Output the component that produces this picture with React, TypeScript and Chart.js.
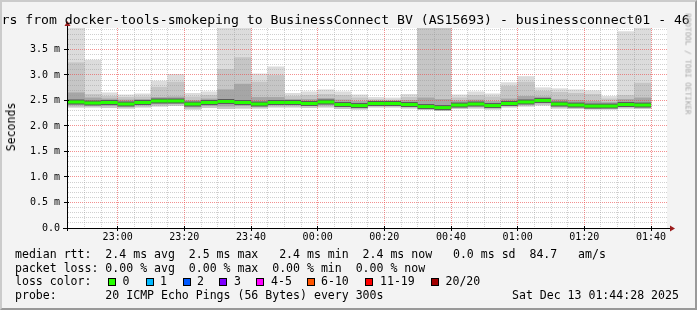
import React, { useEffect, useRef } from "react";
import { Chart, registerables } from "chart.js";

Chart.register(...registerables);

// ---- data -------------------------------------------------------------
// start of each 5-minute measurement slot
const slotStart = [
  "22:45", "22:50", "22:55", "23:00", "23:05", "23:10", "23:15", "23:20", "23:25", "23:30",
  "23:35", "23:40", "23:45", "23:50", "23:55", "00:00", "00:05", "00:10", "00:15", "00:20",
  "00:25", "00:30", "00:35", "00:40", "00:45", "00:50", "00:55", "01:00", "01:05", "01:10",
  "01:15", "01:20", "01:25", "01:30", "01:35",
];
// smoke envelope (ms)
const smokeMax = [
  3.92, 3.29, 2.65, 2.61, 2.63, 2.88, 3.01, 2.64, 2.67, 3.92,
  3.92, 3.02, 3.16, 2.64, 2.67, 2.71, 2.67, 2.61, 2.56, 2.55,
  2.62, 3.92, 3.92, 2.61, 2.67, 2.63, 2.85, 2.97, 2.75, 2.73,
  2.71, 2.69, 2.58, 3.85, 3.92,
];
const smokeUpper = [
  3.24, 2.62, 2.58, 2.56, 2.57, 2.76, 2.86, 2.57, 2.60, 3.11,
  3.34, 2.86, 2.99, 2.58, 2.60, 2.62, 2.60, 2.55, 2.52, 2.51,
  2.56, 3.92, 3.92, 2.55, 2.60, 2.57, 2.78, 2.86, 2.68, 2.66,
  2.64, 2.62, 2.53, 2.60, 2.84,
];
const smokeInner = [
  2.65, 2.55, 2.53, 2.51, 2.52, 2.56, 2.57, 2.50, 2.53, 2.71,
  2.82, 2.56, 2.56, 2.52, 2.52, 2.54, 2.51, 2.48, 2.49, 2.49,
  2.50, 2.55, 2.52, 2.49, 2.51, 2.48, 2.53, 2.58, 2.57, 2.52,
  2.50, 2.48, 2.46, 2.52, 2.55,
];
const smokeInnerLow = [
  2.41, 2.41, 2.40, 2.39, 2.41, 2.43, 2.44, 2.37, 2.40, 2.39,
  2.40, 2.39, 2.41, 2.41, 2.40, 2.41, 2.38, 2.36, 2.40, 2.40,
  2.38, 2.35, 2.33, 2.37, 2.39, 2.36, 2.40, 2.43, 2.45, 2.39,
  2.37, 2.35, 2.36, 2.38, 2.37,
];
const smokeMin = [
  2.37, 2.37, 2.36, 2.35, 2.37, 2.39, 2.40, 2.33, 2.36, 2.34,
  2.35, 2.35, 2.37, 2.37, 2.36, 2.37, 2.34, 2.33, 2.37, 2.37,
  2.35, 2.32, 2.30, 2.34, 2.35, 2.33, 2.37, 2.39, 2.41, 2.35,
  2.34, 2.33, 2.33, 2.35, 2.34,
];
const medianRtt = [
  2.47, 2.45, 2.46, 2.43, 2.46, 2.49, 2.49, 2.43, 2.46, 2.48,
  2.46, 2.43, 2.46, 2.46, 2.44, 2.47, 2.42, 2.40, 2.44, 2.44,
  2.42, 2.38, 2.36, 2.41, 2.43, 2.40, 2.44, 2.47, 2.50, 2.43,
  2.41, 2.39, 2.39, 2.42, 2.41,
];

const xTickLabels = ["23:00", "23:20", "23:40", "00:00", "00:20", "00:40", "01:00", "01:20", "01:40"];
const yTickValues = [0, 0.5, 1, 1.5, 2, 2.5, 3, 3.5];
const yTickLabels = ["0.0", "0.5 m", "1.0 m", "1.5 m", "2.0 m", "2.5 m", "3.0 m", "3.5 m"];
const axisStart = "22:44:48";
const axisEnd = "01:44:48";
const yMax = 3.92;
const stepMinutes = 5;

const lossLegend = [
  { label: "0", color: "#26ff00" },
  { label: "1", color: "#00b8ff" },
  { label: "2", color: "#0059ff" },
  { label: "3", color: "#7e00ff" },
  { label: "4-5", color: "#ff00ff" },
  { label: "6-10", color: "#ff5500" },
  { label: "11-19", color: "#ff0000" },
  { label: "20/20", color: "#a10000" },
];

// ---- helpers -----------------------------------------------------------
function toMinutes(t: string): number {
  const p = t.split(":").map(Number);
  let h = p[0];
  if (h < 12) h += 24;
  return (h - 22) * 60 + p[1] + (p[2] || 0) / 60;
}

const FONT = '"DejaVu Sans Mono", monospace';

const rrdPlugin = {
  id: "rrd",
  beforeDraw(chart: any) {
    const { ctx, chartArea: a } = chart;
    ctx.save();
    ctx.fillStyle = "#ffffff";
    ctx.fillRect(a.left, a.top, a.right - a.left, a.bottom - a.top);
    ctx.restore();
  },
  afterDatasetDraw(chart: any, args: any) {
    if (chart.data.datasets[args.index].label !== "smoke-inner") return;
    const { ctx, chartArea: a, scales } = chart;
    const x = scales.x;
    const y = scales.y;
    ctx.save();
    ctx.lineWidth = 1;
    ctx.setLineDash([1, 1]);
    // horizontal grid
    for (let k = 1; k * 0.1 < yMax; k++) {
      const v = k * 0.1;
      const major = k % 5 === 0;
      const py = Math.floor(y.getPixelForValue(v)) + 0.5;
      ctx.strokeStyle = major ? "rgba(235,70,70,0.6)" : "rgba(150,150,150,0.45)";
      ctx.beginPath();
      ctx.moveTo(a.left + 1, py);
      ctx.lineTo(a.right, py);
      ctx.stroke();
    }
    // vertical grid
    const first = Math.ceil(x.min / stepMinutes) * stepMinutes;
    for (let m = first; m <= x.max; m += stepMinutes) {
      const major = m % 20 === 0;
      const px = Math.floor(x.getPixelForValue(m)) + 0.5;
      if (px <= a.left + 1) continue;
      ctx.strokeStyle = major ? "rgba(235,70,70,0.6)" : "rgba(150,150,150,0.45)";
      ctx.beginPath();
      ctx.moveTo(px, a.top);
      ctx.lineTo(px, a.bottom);
      ctx.stroke();
    }
    ctx.restore();
  },
  afterDraw(chart: any) {
    const { ctx, chartArea: a, scales } = chart;
    const x = scales.x;
    const y = scales.y;
    const ax = Math.floor(a.left) + 0.5;
    const ay = Math.floor(a.bottom) + 0.5;
    ctx.save();
    ctx.strokeStyle = "#000";
    ctx.lineWidth = 1;
    ctx.beginPath();
    ctx.moveTo(a.left - 4, ay);
    ctx.lineTo(a.right + 4, ay);
    ctx.moveTo(ax, a.bottom + 3);
    ctx.lineTo(ax, a.top - 3);
    // ticks
    yTickValues.forEach((v) => {
      const py = Math.floor(y.getPixelForValue(v)) + 0.5;
      ctx.moveTo(a.left - 3, py);
      ctx.lineTo(a.left + 2, py);
    });
    xTickLabels.forEach((l) => {
      const px = Math.floor(x.getPixelForValue(toMinutes(l))) + 0.5;
      ctx.moveTo(px, a.bottom - 2);
      ctx.lineTo(px, a.bottom + 3);
    });
    ctx.stroke();
    // arrows
    ctx.fillStyle = "#9b1c1c";
    ctx.beginPath();
    ctx.moveTo(ax - 3, a.top - 2);
    ctx.lineTo(ax + 3, a.top - 2);
    ctx.lineTo(ax, a.top - 7);
    ctx.closePath();
    ctx.fill();
    ctx.beginPath();
    ctx.moveTo(a.right + 3, ay - 3);
    ctx.lineTo(a.right + 3, ay + 3);
    ctx.lineTo(a.right + 8, ay);
    ctx.closePath();
    ctx.fill();
    ctx.restore();
  },
};

export default function App() {
  const ref = useRef<HTMLCanvasElement | null>(null);

  useEffect(() => {
    if (!ref.current) return;
    const centers = slotStart.map((s) => toMinutes(s) + stepMinutes / 2);
    const band = (lo: number[], hi: number[]) => centers.map((c, i) => ({ x: c, y: [lo[i], hi[i]] }));
    const halfStep = (ctx: any) => {
      const sx = ctx.chart.scales.x;
      return (sx.getPixelForValue(stepMinutes) - sx.getPixelForValue(0)) / 2;
    };
    const barCommon = {
      type: "bar" as const,
      grouped: false,
      barPercentage: 1,
      categoryPercentage: 1,
      borderWidth: 0,
    };
    const chart = new Chart(ref.current, {
      type: "bar",
      data: {
        datasets: [
          { ...barCommon, label: "smoke-max", data: band(smokeMin, smokeMax), backgroundColor: "#dcdcdc", order: 5 } as any,
          { ...barCommon, label: "smoke-upper", data: band(smokeMin, smokeUpper), backgroundColor: "#c6c6c6", order: 4 } as any,
          { ...barCommon, label: "smoke-inner", data: band(smokeInnerLow, smokeInner), backgroundColor: "#a6a6a6", order: 3 } as any,
          {
            type: "line",
            label: "median-shadow",
            data: centers.map((c, i) => ({ x: c, y: medianRtt[i] })),
            showLine: false,
            pointStyle: "line",
            pointRadius: halfStep,
            pointBorderWidth: 5,
            pointBorderColor: "#5a5a5a",
            pointBackgroundColor: "#5a5a5a",
            order: 2,
          } as any,
          {
            type: "line",
            label: "median rtt",
            data: centers.map((c, i) => ({ x: c, y: medianRtt[i] })),
            showLine: false,
            pointStyle: "line",
            pointRadius: halfStep,
            pointBorderWidth: 3,
            pointBorderColor: "#26ff00",
            pointBackgroundColor: "#26ff00",
            order: 1,
          } as any,
        ],
      },
      options: {
        responsive: false,
        animation: false,
        events: [],
        layout: { padding: { left: 0, top: 28, right: 30, bottom: 62 } },
        plugins: { legend: { display: false }, tooltip: { enabled: false }, title: { display: false } },
        scales: {
          x: {
            type: "linear",
            min: toMinutes(axisStart),
            max: toMinutes(axisEnd),
            offset: false,
            grid: { display: false, drawTicks: false },
            border: { display: false },
            afterBuildTicks: (s: any) => {
              s.ticks = xTickLabels.map((l) => ({ value: toMinutes(l) }));
            },
            afterFit: (s: any) => {
              s.height = 20;
            },
            ticks: {
              autoSkip: false,
              maxRotation: 0,
              minRotation: 0,
              padding: 3.5,
              color: "#000",
              font: { family: FONT, size: 10 },
              callback: (_v: any, i: number) => xTickLabels[i],
            },
          },
          y: {
            type: "linear",
            min: 0,
            max: yMax,
            grid: { display: false, drawTicks: false },
            border: { display: false },
            afterBuildTicks: (s: any) => {
              s.ticks = yTickValues.map((v) => ({ value: v }));
            },
            afterFit: (s: any) => {
              s.width = 67;
            },
            ticks: {
              padding: 7,
              color: "#000",
              font: { family: FONT, size: 10 },
              callback: (_v: any, i: number) => yTickLabels[i],
            },
          },
        },
      } as any,
      plugins: [rrdPlugin],
    });
    return () => chart.destroy();
  }, []);

  const legendLine = (top: number, text: string) => (
    <div style={{ position: "absolute", left: 15, top, height: 14, lineHeight: "14px", whiteSpace: "pre" }}>{text}</div>
  );

  const boxLeft = [108, 145.5, 182.5, 219, 256, 307, 365, 430.5];
  const labelLeft = [122.5, 160, 197, 234, 271, 321, 380, 445.5];

  return (
    <div
      style={{
        position: "fixed",
        left: 0,
        top: 0,
        width: 697,
        height: 310,
        background: "#f3f3f3",
        overflow: "hidden",
        fontFamily: FONT,
        fontSize: "11.55px",
        color: "#000",
      }}
    >
      <canvas ref={ref} width={697} height={310} style={{ position: "absolute", left: 0, top: 0, width: 697, height: 310 }} />
      <div
        style={{
          position: "absolute",
          left: 1.5,
          top: 11.5,
          fontSize: "13.15px",
          lineHeight: "16px",
          whiteSpace: "pre",
        }}
      >
        rs from docker-tools-smokeping to BusinessConnect BV (AS15693) - businessconnect01 - 46
      </div>
      <div
        style={{
          position: "absolute",
          left: 10.5,
          top: 127,
          transform: "translate(-50%, -50%) rotate(-90deg)",
          lineHeight: "14px",
          whiteSpace: "pre",
        }}
      >
        Seconds
      </div>
      <div
        style={{
          position: "absolute",
          left: 688,
          top: 64,
          transform: "translate(-50%, -50%) rotate(90deg)",
          fontSize: "7.65px",
          lineHeight: "9px",
          color: "#a8a8a8",
          whiteSpace: "pre",
        }}
      >
        RRDTOOL / TOBI OETIKER
      </div>
      {legendLine(247, "median rtt:  2.4 ms avg  2.5 ms max   2.4 ms min  2.4 ms now   0.0 ms sd  84.7   am/s")}
      {legendLine(260.7, "packet loss: 0.00 % avg  0.00 % max  0.00 % min  0.00 % now")}
      {legendLine(274.3, "loss color:")}
      {lossLegend.map((l, i) => (
        <React.Fragment key={l.label}>
          <div
            style={{
              position: "absolute",
              left: boxLeft[i],
              top: 277.5,
              width: 6,
              height: 6,
              background: l.color,
              border: "1px solid #000",
            }}
          />
          <div style={{ position: "absolute", left: labelLeft[i], top: 274.3, height: 14, lineHeight: "14px", whiteSpace: "pre" }}>
            {l.label}
          </div>
        </React.Fragment>
      ))}
      {legendLine(288, "probe:       20 ICMP Echo Pings (56 Bytes) every 300s")}
      <div style={{ position: "absolute", left: 512, top: 288, height: 14, lineHeight: "14px", whiteSpace: "pre" }}>
        Sat Dec 13 01:44:28 2025
      </div>
      <div
        style={{
          position: "absolute",
          left: 0,
          top: 0,
          width: 697,
          height: 310,
          boxSizing: "border-box",
          borderTop: "2px solid #cbcbcb",
          borderLeft: "2px solid #cbcbcb",
          borderRight: "2px solid #999999",
          borderBottom: "2px solid #999999",
          pointerEvents: "none",
        }}
      />
    </div>
  );
}
